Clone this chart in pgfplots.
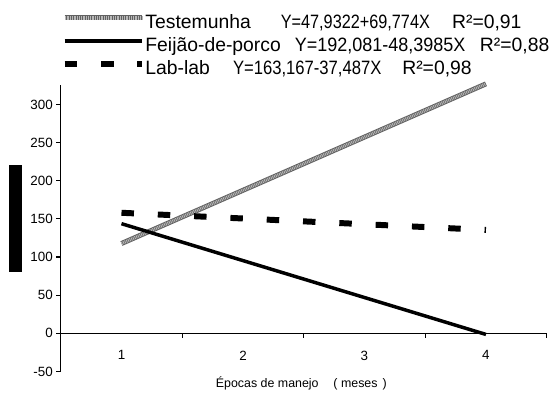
\documentclass[border=0pt]{standalone}
\usepackage{fontspec}
\setmainfont{Liberation Sans}
\usepackage{graphicx}
\usepackage{pgfplots}
\pgfplotsset{compat=1.18}
\begin{document}
\begin{tikzpicture}
\begin{axis}[
  scale only axis,
  width=488bp, height=288bp,
  xmin=0.5, xmax=4.5, ymin=-50, ymax=326,
  axis x line=middle, axis y line=left,
  axis line style={-, line width=1.2bp},
  tick style={line width=1.2bp, black},
  tick align=outside,
  major tick length=4.5bp,
  xtick={1.5,2.5,3.5,4.5}, xticklabels={},
  extra x ticks={1,2,3,4}, extra x tick labels={1,2,3,4},
  extra x tick style={major tick length=0pt, tick label style={yshift=-14bp}},
  ytick={-50,0,50,100,150,200,250,300},
  /pgf/number format/assume math mode=true,
  tick label style={font=\fontsize{13.5}{15}\selectfont},
  clip=false,
  legend style={at={(axis description cs:0,1)}, anchor=north west, xshift=1bp, yshift=71bp,
    draw=none, fill=none, inner sep=0pt, outer sep=0pt,
    font=\fontsize{19.5}{22}\selectfont, row sep=3bp,
    nodes={inner sep=0pt, outer sep=0pt, text height=15bp, text depth=5bp}},
  legend cell align=left,
  legend image code/.code={\draw[#1] (0bp,6bp) -- (78bp,6bp);},
]
\addplot[draw=black!62, line width=5bp,
  postaction={draw=white!72!black, line width=3.2bp, dash pattern=on 0.9bp off 0.9bp}]
  coordinates {(1,117.7) (4,327)};
\addlegendentry{\makebox[136bp][l]{Testemunha}\makebox[172bp][l]{\scalebox{0.84}[1]{Y=47,9322+69,774X}}R²=0,91}
\addplot[black, line width=3.5bp] coordinates {(1,143.7) (4,-1.5)};
\addlegendentry{\makebox[150bp][l]{Feij\~ao-de-porco}\makebox[186bp][l]{\scalebox{0.93}[1]{Y=192,081-48,3985X}}R²=0,88}
\addplot[black, line width=6bp, dash pattern=on 12.5bp off 24bp] coordinates {(1,158) (4,135.5)};
\addlegendentry{\makebox[88bp][l]{Lab-lab}\makebox[170bp][l]{\scalebox{0.86}[1]{Y=163,167-37,487X}}R²=0,98}
\node[font=\fontsize{12.5}{14}\selectfont, anchor=north] at (axis cs:2.48,-50) [yshift=-2bp] {\'Epocas de manejo\hspace{1.2em}( meses\hspace{0.4em})};
\end{axis}
\fill[black] (-52bp,100bp) rectangle (-39bp,207bp);
\path[use as bounding box] (-61bp,-19bp) rectangle (489bp,373bp);
\end{tikzpicture}
\end{document}
